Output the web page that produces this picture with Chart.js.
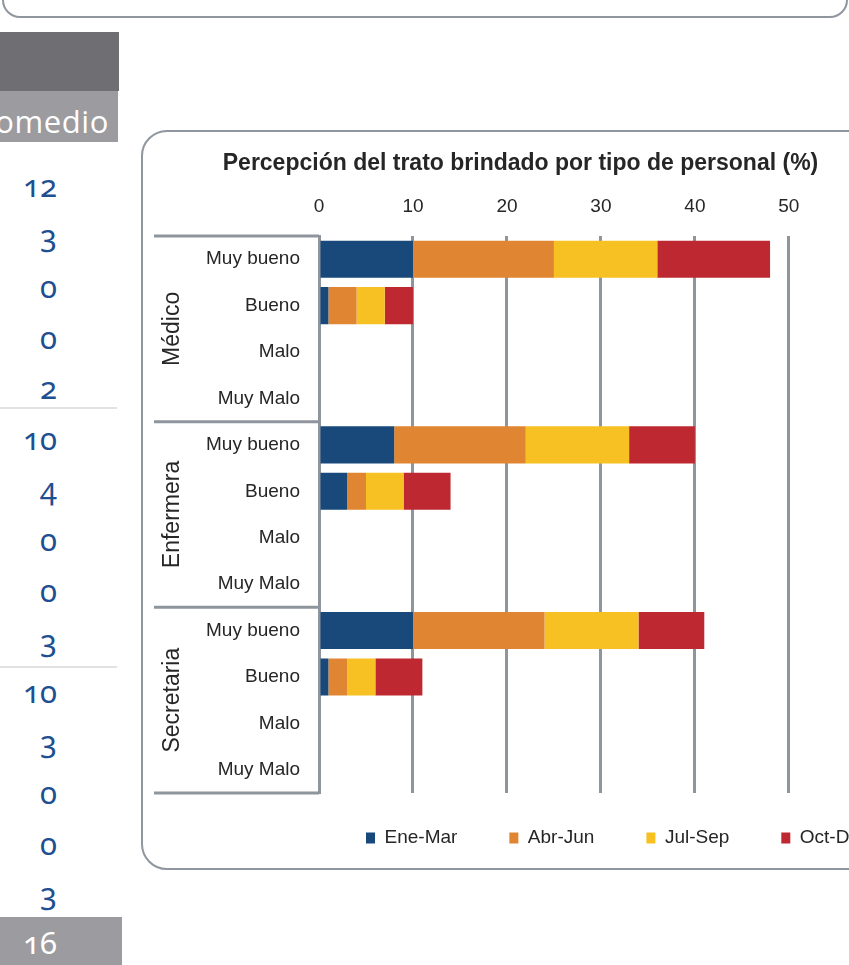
<!DOCTYPE html>
<html><head><meta charset="utf-8">
<script src="https://cdn.jsdelivr.net/npm/chart.js@4.4.1/dist/chart.umd.min.js"></script>
<style>
html,body{margin:0;padding:0;width:849px;height:965px;overflow:hidden;background:#fff;}
body{position:relative;}
.abs{position:absolute;box-sizing:border-box;}
#topbox{left:2px;top:-30px;width:846px;height:48px;border:2px solid #8f969e;border-radius:18px;}
#dark{left:0;top:32px;width:119px;height:59px;background:#6f6e73;}
#light{left:0;top:91px;width:118px;height:51px;background:#9c9b9f;overflow:hidden;}
#prom{position:absolute;right:9px;top:15px;font:31px/30px "Open Sans",sans-serif;letter-spacing:0.6px;color:#fff;white-space:nowrap;}
.num{position:absolute;left:0;width:57px;text-align:right;font:31px/30px "Noto Sans",sans-serif;font-variant-numeric:oldstyle-nums;color:#1d4f91;}
.sep{position:absolute;left:0;width:117px;height:2px;background:#e2e2e2;}
#totbox{left:0;top:917px;width:122px;height:48px;background:#9c9b9f;}
#chartbox{left:141px;top:130px;width:800px;height:740px;border:2px solid #8f969e;border-radius:26px;}
#cv{position:absolute;left:143px;top:131px;}
</style></head>
<body>
<div class="abs" id="topbox"></div>
<div class="abs" id="dark"></div>
<div class="abs" id="light"><div id="prom">Promedio</div></div>
<div id="table"></div>
<div class="abs" id="totbox"></div>
<div class="abs" id="chartbox"></div>
<canvas id="cv" width="768" height="743"></canvas>
<script>
// ---------- data ----------
const categories = ['Muy bueno','Bueno','Malo','Muy Malo','Muy bueno','Bueno','Malo','Muy Malo','Muy bueno','Bueno','Malo','Muy Malo'];
const groups = ['Médico','Enfermera','Secretaria'];
const seriesNames = ['Ene-Mar','Abr-Jun','Jul-Sep','Oct-Dic'];
const eneMar = [10,1,0,0, 8,3,0,0, 10,1,0,0];
const abrJun = [15,3,0,0, 14,2,0,0, 14,2,0,0];
const julSep = [11,3,0,0, 11,4,0,0, 10,3,0,0];
const octDic = [12,3,0,0, 7,5,0,0, 7,5,0,0];
const xTicks = [0,10,20,30,40,50,60];
const tableValues = [12,3,0,0,2, 10,4,0,0,3, 10,3,0,0,3];
const tableTotal = 16;
const titleText = 'Percepción del trato brindado por tipo de personal (%)';

// ---------- styles ----------
const palette = ['#18497A','#E08632','#F7C123','#BE2830'];
const SANS = '"Liberation Sans",Arial,sans-serif';
const TEXT = '#262626';
const GRID = '#8E959C';

// ---------- left table (HTML text) ----------
(function(){
  const host = document.getElementById('table');
  const per = 5;
  tableValues.forEach((v,i)=>{
    const g = Math.floor(i/per), k = i%per;
    const base = 197 + g*253 + k*50.6;
    const d = document.createElement('div');
    d.className='num'; d.textContent=String(v);
    d.style.top = (base-27.2)+'px';
    host.appendChild(d);
  });
  [407,666].forEach(y=>{const s=document.createElement('div');s.className='sep';s.style.top=y+'px';host.appendChild(s);});
  const t = document.createElement('div');
  t.className='num'; t.textContent=String(tableTotal);
  t.style.top=(954-27.2)+'px'; t.style.color='#fff'; t.style.zIndex=2;
  host.appendChild(t);
  document.getElementById('totbox').style.zIndex=1;
})();

// ---------- plugins ----------
const groupBox = {
  id:'groupBox',
  afterDraw(chart){
    const {ctx, chartArea, scales:{y}} = chart;
    const per = categories.length/groups.length;
    const rowH = y.getPixelForValue(1) - y.getPixelForValue(0);
    ctx.save();
    ctx.strokeStyle = GRID; ctx.lineWidth = 3;
    for(let g=0; g<=groups.length; g++){
      const yy = g===groups.length ? chartArea.bottom : y.getPixelForValue(g*per) - rowH/2;
      ctx.beginPath(); ctx.moveTo(11,yy); ctx.lineTo(chartArea.left,yy); ctx.stroke();
    }
    ctx.fillStyle = TEXT;
    ctx.font = '23px ' + SANS;
    ctx.textAlign='center'; ctx.textBaseline='middle';
    groups.forEach((name,g)=>{
      const yc = (y.getPixelForValue(g*per) + y.getPixelForValue(g*per+per-1))/2;
      ctx.save(); ctx.translate(30,yc); ctx.rotate(-Math.PI/2); ctx.fillText(name,0,0); ctx.restore();
    });
    ctx.restore();
  }
};
const LEGEND_X = 223, LEGEND_Y = 707, LEGEND_FONT = 19;
const legendShift = {
  id:'legendShift',
  afterLayout(chart){
    const lg = chart.legend; if(!lg) return;
    const pad = lg.options.labels.padding;
    const h = lg.bottom - lg.top;
    lg.left = LEGEND_X - pad;
    lg.right = chart.width + 300;
    lg.top = LEGEND_Y - pad - LEGEND_FONT/2;
    lg.bottom = lg.top + h;
  }
};

// ---------- chart ----------
const seriesData = [eneMar, abrJun, julSep, octDic];
new Chart(document.getElementById('cv'), {
  type:'bar',
  data:{
    labels: categories,
    datasets: seriesNames.map((n,i)=>({label:n, data:seriesData[i], backgroundColor:palette[i], borderWidth:0}))
  },
  options:{
    indexAxis:'y', responsive:false, animation:false,
    events:[],
    layout:{padding:{left:15,right:28,top:0,bottom:0}},
    datasets:{bar:{categoryPercentage:1, barPercentage:0.8}},
    scales:{
      x:{type:'linear', position:'top', stacked:true, min:xTicks[0], max:xTicks[xTicks.length-1],
         afterBuildTicks(s){ s.ticks = xTicks.map(v=>({value:v})); },
         ticks:{padding:17.6, color:TEXT, font:{family:SANS,size:19}},
         grid:{color:GRID, lineWidth:3, drawTicks:false},
         border:{display:false},
         afterFit(s){ s.height = 43; }},
      y:{stacked:true,
         grid:{display:false, drawTicks:false},
         border:{display:true, color:GRID, width:3},
         ticks:{padding:19, color:TEXT, autoSkip:false, font:{family:SANS,size:19}},
         afterFit(s){ s.width = 161; }}
    },
    plugins:{
      title:{display:true, text:titleText, color:TEXT, font:{family:SANS,size:23,weight:'bold'}, padding:{top:19.2,bottom:15.2}},
      legend:{position:'bottom', align:'start', labels:{boxWidth:9, boxHeight:11, padding:52, color:TEXT, font:{family:SANS,size:LEGEND_FONT}}},
      tooltip:{enabled:false}
    }
  },
  plugins:[groupBox, legendShift]
});
</script>
</body></html>
